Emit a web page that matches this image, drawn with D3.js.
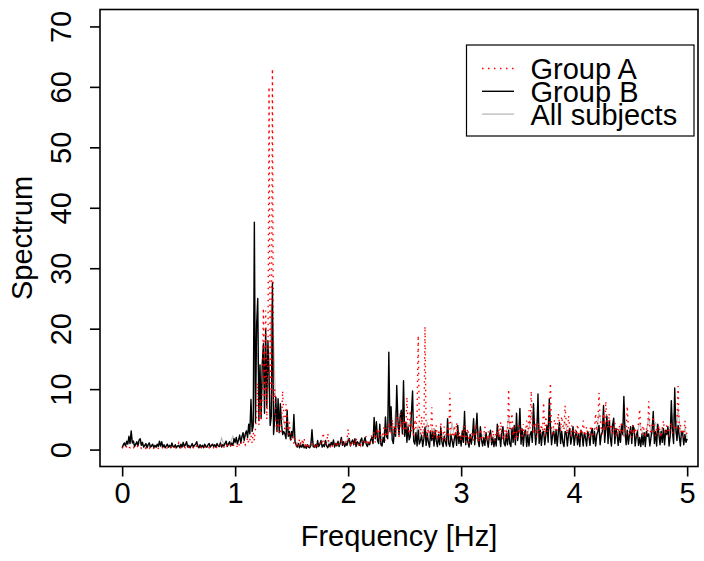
<!DOCTYPE html>
<html><head><meta charset="utf-8">
<script src="https://cdn.jsdelivr.net/npm/d3@7"></script>
<style>
body{margin:0;background:#fff}
text{font-family:"Liberation Sans",Arial,Helvetica,sans-serif;}
</style>
</head><body>
<svg id="chart" width="704" height="561"></svg>
<script>
// ---- data (spectrum values) ----
const binStep = 0.01;      // Hz between bins of Group A / Group B
const allStep = 0.02;      // Hz between bins of All subjects

const groupA = [
0.2,0.4,0.6,0.3,0.5,0.8,0.4,0.3,0.6,0.4,
0.3,0.5,0.2,0.4,0.6,0.3,0.5,0.2,0.4,0.3,
0.4,0.2,0.5,0.3,0.2,0.4,0.3,0.5,0.2,0.3,
0.5,0.3,0.2,0.4,0.3,0.5,0.2,0.3,0.4,0.2,
0.3,0.5,0.2,0.4,0.3,0.2,0.5,0.3,0.4,0.6,
1.1,0.4,0.3,0.5,0.2,0.4,0.3,0.5,0.2,0.4,
0.3,0.2,0.5,0.3,0.4,0.2,0.6,0.3,0.2,0.4,
0.3,0.5,0.2,0.4,0.3,0.2,0.5,0.3,0.4,0.2,
0.4,0.3,0.6,0.2,0.5,0.3,0.4,0.7,0.3,0.5,
0.4,0.6,0.3,0.8,0.5,0.4,0.7,0.5,0.9,0.6,
0.5,0.8,0.4,1.0,0.6,1.2,0.7,0.9,1.5,0.8,
1.2,2.0,1.0,1.6,2.4,1.1,2.8,1.5,3.5,6.0,
11.0,4.0,8.5,5.0,10.0,23.4,8.0,23.0,5.0,12.0,
60.0,14.0,9.0,63.0,8.0,10.0,4.5,3.0,5.0,3.5,
2.5,4.0,9.7,6.0,3.0,7.5,5.0,2.5,4.5,2.0,
1.5,2.2,1.0,1.8,0.8,1.2,0.6,1.8,1.0,1.6,
0.8,1.9,0.7,1.2,0.5,0.9,0.4,0.7,1.0,0.5,
0.8,0.5,1.0,0.6,0.9,1.2,0.7,1.4,2.8,1.0,
0.7,1.2,2.7,0.9,0.5,1.0,0.6,0.8,1.2,0.5,
0.9,0.6,1.1,0.7,1.4,0.8,1.0,0.6,1.3,1.8,
3.4,1.2,0.8,1.5,0.9,1.3,0.7,2.0,1.0,0.8,
1.2,0.7,1.5,1.0,0.8,1.4,2.2,0.9,1.3,0.7,
1.5,2.5,1.8,3.0,1.2,2.6,3.5,2.0,3.2,1.5,
2.0,2.8,4.0,1.5,3.5,2.2,4.5,3.0,2.5,5.0,
3.0,4.2,2.5,5.5,3.8,2.0,6.0,3.5,4.8,2.5,
5.0,3.0,8.7,4.0,2.5,6.5,3.0,4.2,2.0,5.0,
3.5,6.0,18.9,4.0,2.5,5.5,3.0,2.0,20.4,3.5,
2.0,4.0,2.5,3.0,7.0,1.8,3.5,2.2,4.0,1.5,
3.0,2.0,4.5,1.5,2.5,3.8,1.2,2.8,3.5,2.0,
9.4,2.5,3.0,1.5,4.0,2.2,4.5,1.8,3.0,2.0,
1.5,3.2,2.0,4.0,1.2,2.8,3.5,1.0,2.5,1.8,
3.0,1.5,2.2,4.2,1.8,2.6,1.2,3.4,2.0,1.5,
2.5,3.8,1.4,2.2,3.0,1.6,2.8,1.2,3.2,2.0,
1.5,3.0,2.2,4.0,1.8,4.6,2.5,1.5,3.2,2.2,
3.5,1.8,10.0,2.5,4.5,6.0,2.2,3.8,1.5,3.0,
2.0,4.0,2.8,3.5,1.8,4.2,2.5,3.0,4.8,2.2,
6.5,3.5,9.7,4.0,2.5,5.0,3.2,2.0,4.5,3.0,
2.5,4.2,3.0,7.8,2.2,5.5,3.5,2.8,4.0,11.0,
3.5,2.2,4.5,5.0,2.8,3.5,6.0,4.2,3.0,5.5,
4.0,3.2,7.3,4.5,2.5,5.6,3.8,2.2,4.0,3.0,
2.5,3.5,2.0,4.2,2.8,1.8,3.5,2.5,4.8,3.0,
2.2,3.8,2.5,1.8,3.2,4.0,2.0,2.8,3.5,6.0,
3.0,4.5,9.4,5.0,3.5,2.5,6.0,3.0,8.0,4.5,
3.5,6.0,2.8,4.0,2.5,3.2,4.5,2.0,3.5,2.8,
4.0,2.5,4.6,3.0,2.2,3.5,2.8,7.2,3.5,2.5,
3.2,2.0,4.0,2.5,3.5,2.2,3.0,4.5,6.7,3.0,
2.5,4.0,3.2,2.0,3.5,2.8,8.0,3.5,2.5,4.0,
5.5,3.0,2.2,3.8,2.5,4.0,3.0,2.0,3.5,4.8,
3.0,2.5,4.0,3.2,2.2,3.5,4.5,2.8,3.0,4.0,
3.5,5.0,10.5,3.0,4.2,2.5,3.5,2.0,4.8,3.0,
2.5];

const groupB = [
0.3,0.8,1.1,0.6,1.4,0.9,2.2,1.0,3.1,1.1,
1.4,0.5,0.9,1.3,0.6,1.6,1.8,0.7,1.2,0.4,
0.7,1.0,0.3,0.8,1.1,0.4,0.6,0.9,0.3,0.7,
0.4,0.9,0.5,1.4,0.6,1.3,0.4,0.8,0.3,0.6,
0.9,0.4,0.7,0.3,1.1,0.5,0.4,0.8,0.3,0.6,
0.7,0.3,0.9,0.4,1.2,0.5,0.8,1.3,0.4,0.7,
0.3,0.6,1.0,0.4,0.7,0.9,1.3,0.5,0.3,0.8,
0.4,0.7,0.3,0.9,0.5,0.4,0.8,1.0,0.4,0.7,
0.9,0.5,0.8,0.4,1.0,0.6,0.5,1.1,0.4,0.8,
0.6,1.0,1.4,0.5,0.9,1.3,0.6,1.1,0.7,1.8,
1.2,2.0,0.9,1.6,2.4,1.1,2.1,2.8,1.5,2.6,
3.1,2.0,4.2,2.6,8.3,3.0,3.9,37.6,4.5,20.6,
25.0,4.8,14.0,5.2,14.2,17.5,6.0,20.0,7.0,18.0,
12.0,4.0,5.5,27.6,2.5,5.0,8.7,3.0,8.4,2.8,
7.6,4.3,2.5,3.0,2.6,1.8,6.5,2.2,3.0,1.6,
3.0,2.0,5.8,1.2,0.8,0.4,1.0,0.3,0.7,0.4,
0.9,0.3,0.6,0.2,0.8,0.4,0.3,0.7,3.3,0.5,
0.4,0.8,0.3,1.5,0.5,0.9,1.5,0.4,0.8,0.5,
1.5,0.6,0.3,0.9,0.5,1.2,0.7,1.6,0.4,1.0,
0.6,1.4,0.5,1.1,2.0,0.7,1.3,0.5,1.0,0.7,
1.5,1.8,0.6,1.2,1.6,0.8,1.8,0.5,1.3,1.1,
0.7,1.5,1.9,0.6,1.4,2.0,0.9,0.5,1.2,0.8,
1.6,2.0,1.0,5.3,1.8,4.6,1.5,1.0,4.2,0.8,
0.6,2.0,1.2,5.4,2.2,1.8,16.1,3.0,7.1,1.6,
1.0,3.5,2.2,10.6,5.0,2.4,5.4,6.5,2.6,11.4,
2.2,4.5,1.2,3.8,1.6,2.2,6.0,9.7,1.4,0.9,
2.8,0.6,3.2,0.9,1.5,2.4,0.5,1.8,3.7,0.7,
2.7,1.2,0.4,3.0,1.5,2.9,0.6,3.2,1.4,0.5,
2.5,0.8,3.6,1.2,0.5,2.2,1.3,0.6,5.1,1.0,
0.5,2.4,1.5,0.4,1.8,2.6,0.7,4.0,1.0,2.2,
0.6,3.0,1.2,6.3,0.8,2.8,1.2,0.4,2.5,0.9,
2.2,5.1,0.8,3.0,6.0,1.4,0.5,3.8,1.6,0.6,
2.0,0.7,2.8,1.5,0.4,2.4,3.2,0.8,2.0,0.5,
1.8,0.6,4.2,1.6,2.2,0.5,3.0,3.8,1.0,0.6,
2.6,0.8,3.2,1.0,0.5,3.5,1.2,4.0,0.8,6.0,
1.5,3.0,6.8,0.9,3.4,0.6,2.8,3.2,0.5,2.5,
0.6,2.5,3.0,1.2,7.6,3.5,0.8,3.0,9.2,1.0,
3.2,0.7,2.8,3.0,0.8,2.5,4.0,1.2,8.4,3.5,
0.8,2.6,3.0,1.0,3.2,0.6,2.8,4.5,1.0,3.0,
1.2,0.5,3.0,2.8,0.6,2.5,3.5,0.9,2.0,3.8,
0.7,2.2,3.0,0.8,2.6,0.5,3.2,2.5,0.6,2.8,
2.0,0.6,3.0,2.2,0.7,2.8,3.5,1.0,3.0,0.6,
2.4,3.0,4.0,0.8,2.5,3.0,7.3,1.2,3.5,5.5,
1.0,4.8,2.0,0.6,4.0,5.2,1.0,3.5,2.5,0.7,
3.0,1.2,4.2,2.5,8.8,3.0,0.8,3.2,0.9,2.6,
3.8,1.0,4.0,3.5,0.6,2.2,3.0,0.7,2.0,0.5,
2.5,0.8,2.8,0.5,3.0,2.2,2.6,0.6,2.0,3.2,
6.3,1.0,3.0,0.6,4.2,2.5,0.8,3.0,1.2,3.5,
0.8,3.2,2.5,3.8,0.6,2.2,8.1,3.0,1.0,10.2,
3.5,1.5,4.0,2.2,0.6,3.0,2.8,0.8,2.5,1.2,
1.8];

const allSubjects = [
0.3,0.8,0.9,1.2,1.6,0.9,0.8,1.0,1.1,0.7,
0.6,0.7,0.5,0.8,0.6,0.4,0.9,0.5,0.6,0.5,
0.6,0.5,0.7,0.5,0.4,0.6,0.8,0.5,0.7,0.6,
0.5,0.7,0.6,0.5,0.8,0.6,0.5,0.7,0.6,0.5,
0.7,0.6,0.8,0.6,1.9,0.8,0.9,1.0,1.2,2.2,
1.0,1.4,1.8,2.2,2.0,2.5,3.0,5.0,4.0,18.0,
15.0,8.0,10.0,14.0,12.0,10.0,24.0,18.0,6.0,5.0,
4.0,5.5,4.0,3.5,2.5,2.0,1.8,1.2,1.0,0.8,
0.9,0.7,0.8,0.6,1.8,0.7,0.9,0.8,1.0,1.5,
1.0,1.5,0.8,0.9,1.0,1.1,0.8,1.4,0.9,1.0,
2.0,1.0,1.2,1.3,0.9,1.1,1.5,1.2,1.4,0.9,
1.5,1.6,3.0,2.5,2.8,2.0,3.2,2.0,9.0,4.0,
2.0,6.5,3.5,4.0,6.0,3.0,4.5,4.0,5.5,2.0,
2.5,4.0,2.5,3.0,2.5,4.5,2.2,3.5,2.8,2.5,
2.0,2.5,2.6,2.2,3.0,2.0,4.5,2.0,2.6,2.0,
2.0,4.0,2.2,2.0,1.8,2.5,3.0,4.0,2.5,2.2,
2.5,2.0,2.2,2.6,2.0,2.2,2.4,2.8,2.0,2.5,
2.8,5.5,2.5,3.5,3.0,3.5,4.0,3.2,2.5,2.2,
3.5,6.0,4.5,3.0,5.5,2.5,3.0,3.5,3.0,7.0,
2.5,3.5,3.0,3.2,3.5,3.8,4.5,2.8,3.5,3.0,
2.2,2.5,2.5,2.8,2.2,2.5,2.8,3.0,2.5,3.5,
3.5,6.0,4.5,3.5,4.5,3.5,4.5,3.0,3.0,2.5,
3.5,3.0,5.0,3.0,3.0,3.0,2.8,2.5,2.8,4.5,
3.0,2.5,3.0,5.5,2.5,2.8,4.5,3.0,2.8,3.5,
2.5,3.0,2.8,3.5,6.0,2.5,7.0,3.0,2.5,3.5,
2.0];

const xTicks = [0, 1, 2, 3, 4, 5];
const yTicks = [0, 10, 20, 30, 40, 50, 60, 70];
const seriesNames = ["Group A", "Group B", "All subjects"];
const xLabel = "Frequency [Hz]";
const yLabel = "Spectrum";

// ---- layout ----
const FONT = 29;
const box = {left:100, right:698, top:9.5, bottom:466.5};
const svg = d3.select("#chart");
svg.append("rect").attr("width",704).attr("height",561).attr("fill","#fff");

const x = d3.scaleLinear().domain([-0.196, 5.096]).range([box.left, box.right]);
const y = d3.scaleLinear().domain([-2.8, 72.8]).range([box.bottom, box.top]);

svg.append("clipPath").attr("id","clip").append("rect")
  .attr("x",box.left).attr("y",box.top)
  .attr("width",box.right-box.left).attr("height",box.bottom-box.top);

const toPts = (vals, step) => vals.map((v,i)=>({f:i*step, v}));
const line = d3.line().x(d=>x(d.f)).y(d=>y(d.v));
const g = svg.append("g").attr("clip-path","url(#clip)");

g.append("path").datum(toPts(allSubjects, allStep)).attr("d", line)
  .attr("fill","none").attr("stroke","#bebebe").attr("stroke-width",1.2);
g.append("path").datum(toPts(groupB, binStep)).attr("d", line)
  .attr("fill","none").attr("stroke","#000").attr("stroke-width",1.4)
  .attr("stroke-linejoin","round");
g.append("path").datum(toPts(groupA, binStep)).attr("d", line)
  .attr("fill","none").attr("stroke","#ff0000").attr("stroke-width",1.4)
  .attr("stroke-dasharray","1.5,4.5");

// box
svg.append("rect").attr("x",box.left).attr("y",box.top)
  .attr("width",box.right-box.left).attr("height",box.bottom-box.top)
  .attr("fill","none").attr("stroke","#000").attr("stroke-width",1.6);

// x axis
const xAxis = svg.append("g").attr("transform",`translate(0,${box.bottom})`)
  .call(d3.axisBottom(x).tickValues(xTicks).tickSize(10).tickSizeOuter(0).tickFormat(d3.format("d")));
xAxis.select(".domain").remove();
xAxis.selectAll(".tick line").attr("stroke","#000").attr("stroke-width",1.6);
xAxis.selectAll(".tick text").attr("y",36.5).attr("dy",0)
  .attr("font-size",FONT).attr("fill","#000");

// y axis
const yAxis = svg.append("g").attr("transform",`translate(${box.left},0)`)
  .call(d3.axisLeft(y).tickValues(yTicks).tickSize(10).tickSizeOuter(0).tickFormat(d3.format("d")));
yAxis.select(".domain").remove();
yAxis.selectAll(".tick line").attr("stroke","#000").attr("stroke-width",1.6);
yAxis.selectAll(".tick text")
  .attr("x",0).attr("dy",0).attr("text-anchor","middle")
  .attr("transform","translate(-29,0) rotate(-90)")
  .attr("font-size",FONT).attr("fill","#000");

// axis titles
svg.append("text").attr("x",(box.left+box.right)/2).attr("y",546)
  .attr("text-anchor","middle").attr("font-size",FONT).text(xLabel);
svg.append("text").attr("transform",`translate(32,${(box.top+box.bottom)/2}) rotate(-90)`)
  .attr("text-anchor","middle").attr("font-size",FONT).text(yLabel);

// legend
const lg = svg.append("g");
lg.append("rect").attr("x",466.5).attr("y",45).attr("width",227.5).attr("height",91)
  .attr("fill","#fff").attr("stroke","#000").attr("stroke-width",1.2);
const styles = [
  {stroke:"#ff0000", dash:"1.5,4.5"},
  {stroke:"#000", dash:null},
  {stroke:"#bebebe", dash:null}
];
seriesNames.forEach((name,i)=>{
  const cy = 68.5 + i*22.8;
  lg.append("line").attr("x1",482).attr("x2",514).attr("y1",cy).attr("y2",cy)
    .attr("stroke",styles[i].stroke).attr("stroke-width",1.4)
    .attr("stroke-dasharray",styles[i].dash);
  lg.append("text").attr("x",530.5).attr("y",cy+10.5)
    .attr("font-size",FONT).attr("fill","#000").text(name);
});
</script>
</body></html>
